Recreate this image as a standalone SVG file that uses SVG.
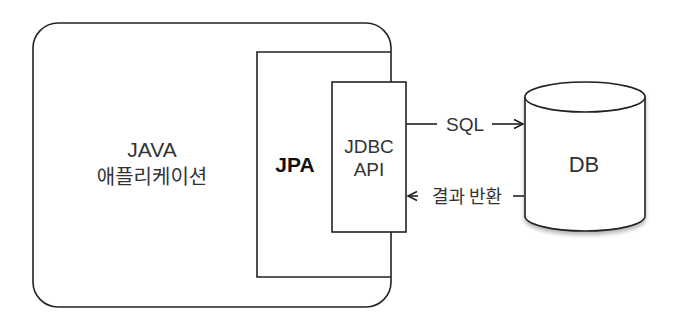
<svg xmlns="http://www.w3.org/2000/svg" width="674" height="335" viewBox="0 0 674 335">
<defs>
<style>
.box{fill:#fff;stroke:#222;stroke-width:1.6}
.ln{fill:none;stroke:#222;stroke-width:1.6}
.t{font-family:"Liberation Sans","Noto Sans CJK KR",sans-serif;fill:#333;text-anchor:middle}
.k{font-family:"Noto Sans CJK KR","Liberation Sans",sans-serif;fill:#333;text-anchor:middle}
</style>
<marker id="open" markerWidth="12" markerHeight="12" refX="10" refY="6" orient="auto" markerUnits="userSpaceOnUse">
<path d="M1,1.5 L10,6 L1,10.5" fill="none" stroke="#222" stroke-width="1.6"/>
</marker>
<filter id="sh" x="-20%" y="-20%" width="140%" height="140%">
<feGaussianBlur in="SourceAlpha" stdDeviation="2"/>
<feOffset dx="0" dy="3" result="b"/>
<feComponentTransfer><feFuncA type="linear" slope="0.3"/></feComponentTransfer>
<feMerge><feMergeNode/><feMergeNode in="SourceGraphic"/></feMerge>
</filter>
</defs>
<rect width="674" height="335" fill="#fff"/>
<g id="java-app">
<rect class="box" x="33" y="23" width="358" height="284" rx="25" ry="25"/>
<text class="t" x="152" y="157" font-size="21">JAVA</text>
<text class="k" x="152" y="184" font-size="20">애플리케이션</text>
</g>
<g id="jpa">
<path class="ln" d="M391,52 H257 V277 H391"/>
<text class="t" x="295" y="172" font-size="21" font-weight="bold" fill="#111" style="fill:#111">JPA</text>
</g>
<g id="jdbc-api">
<rect class="box" x="332" y="82" width="74" height="150"/>
<text class="t" x="369" y="153" font-size="19">JDBC</text>
<text class="t" x="369" y="176" font-size="19">API</text>
</g>
<g id="db">
<g filter="url(#sh)">
<path class="box" d="M525,97 V216 A60,15 0 0 0 645,216 V97"/>
<ellipse class="box" cx="585" cy="97" rx="60" ry="15"/>
</g>
<text class="t" x="584" y="172" font-size="22">DB</text>
</g>
<g id="connectors">
<line class="ln" x1="406" y1="124" x2="437" y2="124"/>
<line class="ln" x1="492" y1="124" x2="523" y2="124" marker-end="url(#open)"/>
<line class="ln" x1="524" y1="196" x2="513" y2="196"/>
<line class="ln" x1="418" y1="196" x2="408" y2="196" marker-end="url(#open)"/>
<text class="t" x="465" y="131" font-size="19">SQL</text>
<text class="k" x="467" y="203" font-size="18" textLength="70" lengthAdjust="spacingAndGlyphs">결과 반환</text>
</g>
</svg>
